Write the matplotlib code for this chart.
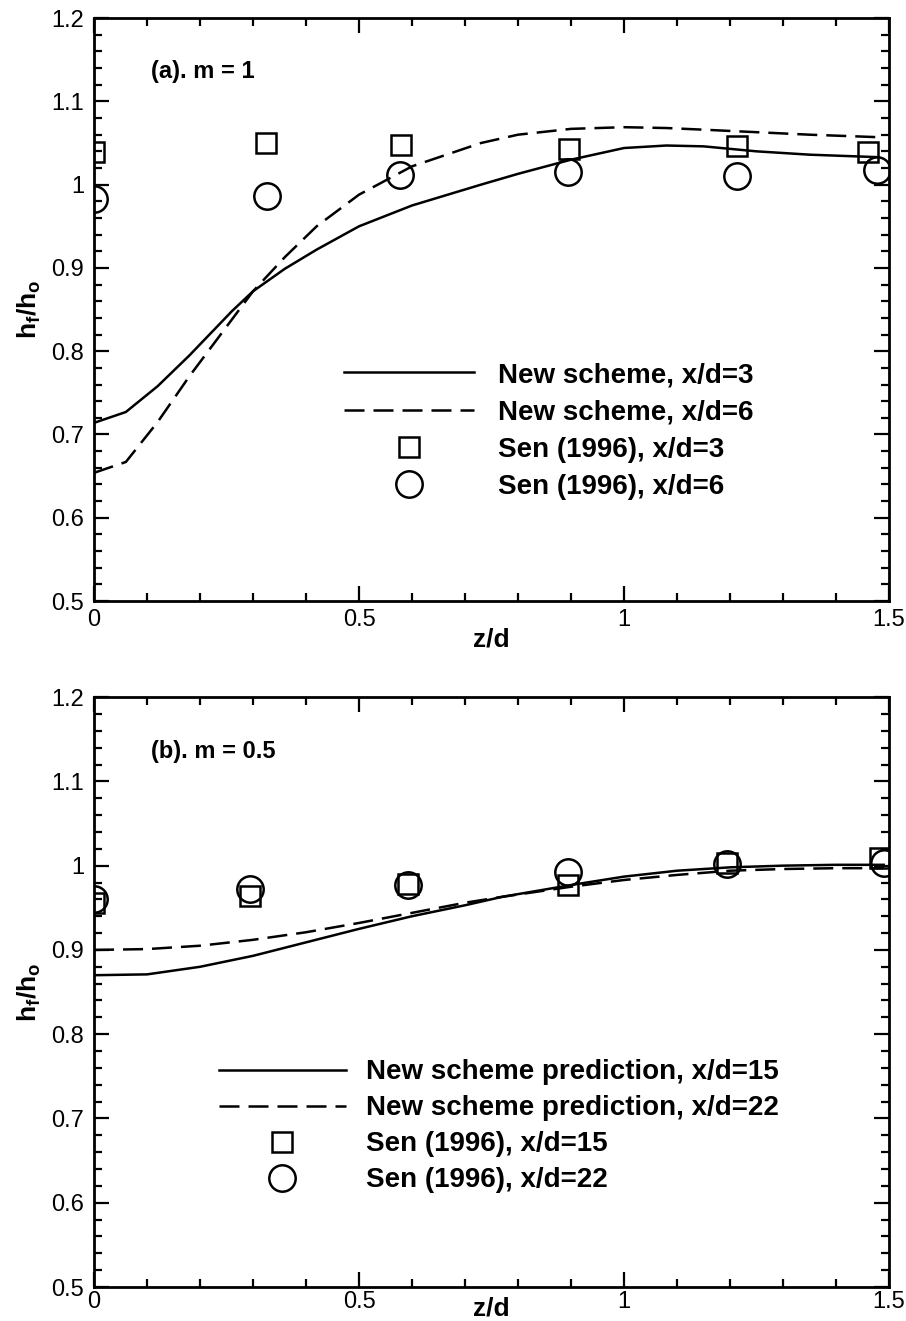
import matplotlib

matplotlib.use("Agg")
import matplotlib.pyplot as plt
from matplotlib.ticker import MultipleLocator

plt.rcParams["font.family"] = ["Liberation Sans", "DejaVu Sans"]
plt.rcParams["mathtext.fontset"] = "custom"
plt.rcParams["mathtext.bf"] = "Liberation Sans:bold"
plt.rcParams["mathtext.rm"] = "Liberation Sans"

# ---- panel (a): m = 1 ----
z_line_a = [0.0, 0.06, 0.12, 0.18, 0.26, 0.3, 0.36, 0.42, 0.5, 0.6, 0.73, 0.8, 0.9,
            1.0, 1.08, 1.15, 1.25, 1.35, 1.48]
new_x3 = [0.714, 0.727, 0.758, 0.795, 0.848, 0.872, 0.899, 0.922, 0.950, 0.975, 1.000,
          1.013, 1.030, 1.044, 1.047, 1.046, 1.040, 1.036, 1.033]
new_x6 = [0.654, 0.667, 0.715, 0.770, 0.838, 0.872, 0.913, 0.950, 0.988, 1.022, 1.050,
          1.060, 1.067, 1.069, 1.068, 1.066, 1.063, 1.060, 1.057]

z_sen_a = [0.0, 0.325, 0.58, 0.896, 1.213, 1.46]
sen_x3 = [1.039, 1.050, 1.048, 1.043, 1.046, 1.039]
z_sen_a6 = [0.0, 0.326, 0.577, 0.894, 1.213, 1.477]
sen_x6 = [0.983, 0.986, 1.012, 1.015, 1.010, 1.018]

# ---- panel (b): m = 0.5 ----
z_line_b = [0.0, 0.1, 0.2, 0.3, 0.4, 0.5, 0.6, 0.7, 0.77, 0.9, 1.0, 1.1, 1.2, 1.3,
            1.4, 1.49]
new_x15 = [0.870, 0.871, 0.880, 0.893, 0.909, 0.925, 0.940, 0.953, 0.963, 0.977, 0.987,
           0.994, 0.998, 1.000, 1.001, 1.001]
new_x22 = [0.900, 0.901, 0.905, 0.912, 0.921, 0.932, 0.944, 0.956, 0.963, 0.975, 0.983,
           0.989, 0.994, 0.996, 0.997, 0.997]

z_sen_b15 = [0.0, 0.294, 0.593, 0.895, 1.194, 1.483]
sen_x15 = [0.956, 0.964, 0.978, 0.977, 1.003, 1.009]
z_sen_b22 = [0.0, 0.294, 0.593, 0.895, 1.194, 1.49]
sen_x22 = [0.961, 0.972, 0.977, 0.993, 1.002, 1.003]

LW = 1.8
DASH = (8, 3.6)


def style_axes(ax, tick_pad, xlabelpad):
    ax.set_xlim(0, 1.5)
    ax.set_ylim(0.5, 1.2)
    ax.xaxis.set_major_locator(MultipleLocator(0.5))
    ax.xaxis.set_minor_locator(MultipleLocator(0.1))
    ax.yaxis.set_major_locator(MultipleLocator(0.1))
    ax.yaxis.set_minor_locator(MultipleLocator(0.02))
    ax.xaxis.set_major_formatter(plt.FuncFormatter(lambda v, p: f"{v:g}"))
    ax.yaxis.set_major_formatter(plt.FuncFormatter(lambda v, p: f"{v:g}"))
    ax.tick_params(which="both", direction="in", top=True, right=True,
                   labelsize=17, width=1.6)
    ax.tick_params(which="major", length=11)
    ax.tick_params(which="minor", length=6)
    ax.tick_params(axis="x", which="major", pad=tick_pad)
    ax.tick_params(axis="y", which="major", pad=7)
    for s in ax.spines.values():
        s.set_linewidth(2.0)
    ax.set_xlabel("z/d", fontsize=19, fontweight="bold", labelpad=xlabelpad)
    ax.set_ylabel(r"$\mathbf{h_f/h_o}$", fontsize=19, labelpad=6)


def legend(ax, anchor, hlen, hpad, spacing):
    ax.legend(loc="upper left", bbox_to_anchor=anchor, frameon=False,
              handlelength=hlen, handletextpad=hpad, labelspacing=spacing,
              borderpad=0, borderaxespad=0, numpoints=1,
              prop={"weight": "bold", "size": 20})


fig = plt.figure(figsize=(9.06, 13.21), dpi=100)

ax1 = fig.add_axes([0.1038, 0.545, 0.8775, 0.4413])
ax1.plot(z_line_a, new_x3, "k-", lw=LW, label="New scheme, x/d=3")
ax1.plot(z_line_a, new_x6, "k--", lw=LW, dashes=DASH, label="New scheme, x/d=6")
ax1.plot(z_sen_a, sen_x3, "s", ms=14, mfc="none", mec="k", mew=1.8,
         label="Sen (1996), x/d=3")
ax1.plot(z_sen_a6, sen_x6, "o", ms=19, mfc="none", mec="k", mew=1.8,
         label="Sen (1996), x/d=6")
style_axes(ax1, tick_pad=6, xlabelpad=-3)
ax1.text(0.072, 0.908, "(a). m = 1", transform=ax1.transAxes, fontsize=17,
         fontweight="bold", va="center")
legend(ax1, (0.315, 0.41), 4.68, 0.86, 0.41)

ax2 = fig.add_axes([0.1038, 0.0257, 0.8775, 0.4466])
ax2.plot(z_line_b, new_x15, "k-", lw=LW, label="New scheme prediction, x/d=15")
ax2.plot(z_line_b, new_x22, "k--", lw=LW, dashes=DASH,
         label="New scheme prediction, x/d=22")
ax2.plot(z_sen_b15, sen_x15, "s", ms=14, mfc="none", mec="k", mew=1.8,
         label="Sen (1996), x/d=15")
ax2.plot(z_sen_b22, sen_x22, "o", ms=19, mfc="none", mec="k", mew=1.8,
         label="Sen (1996), x/d=22")
style_axes(ax2, tick_pad=3, xlabelpad=-12)
ax2.text(0.072, 0.908, "(b). m = 0.5", transform=ax2.transAxes, fontsize=17,
         fontweight="bold", va="center")
legend(ax2, (0.157, 0.386), 4.57, 0.72, 0.36)

fig.savefig("out.png", dpi=100)
